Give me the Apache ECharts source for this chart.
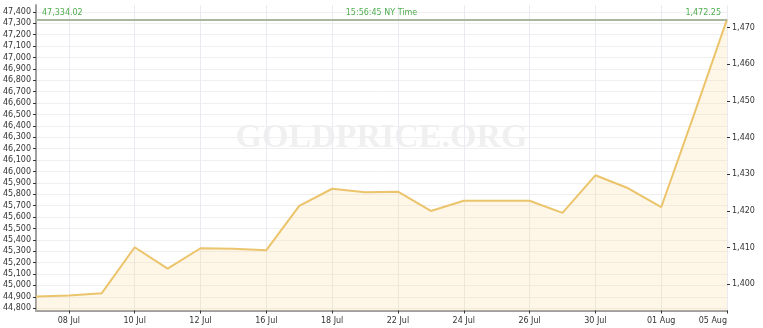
<!DOCTYPE html>
<html>
<head>
<meta charset="utf-8">
<script src="https://cdn.jsdelivr.net/npm/echarts@6/dist/echarts.min.js"></script>
<style>
  html, body { margin: 0; padding: 0; background: #ffffff; }
  #chart { width: 763px; height: 328px; }
</style>
</head>
<body>
<div id="chart"></div>
<script>
// ---- data ----
const categories = ['05 Jul','08 Jul','09 Jul','10 Jul','11 Jul','12 Jul','15 Jul','16 Jul','17 Jul','18 Jul','19 Jul',
  '22 Jul','23 Jul','24 Jul','25 Jul','26 Jul','29 Jul','30 Jul','31 Jul','01 Aug','02 Aug','05 Aug'];
const localValues = [44902, 44912, 44932, 45335, 45148, 45326, 45322, 45309, 45697, 45848, 45817,
  45822, 45653, 45743, 45743, 45743, 45636, 45966, 45852, 45686, 46500, 47334.02];
const usdLast = 1472.25;
const timeLabel = '15:56:45 NY Time';
const leftTicks = [44800, 44900, 45000, 45100, 45200, 45300, 45400, 45500, 45600, 45700, 45800, 45900,
  46000, 46100, 46200, 46300, 46400, 46500, 46600, 46700, 46800, 46900, 47000, 47100, 47200, 47300, 47400];
const rightTicks = [1400, 1410, 1420, 1430, 1440, 1450, 1460, 1470];
const leftMin = 44780;
const leftMax = 47460;

// ---- derived ----
const lastLocal = localValues[localValues.length - 1];
const ratio = lastLocal / usdLast;
const fmt0 = v => Number(v).toLocaleString('en-US');
const fmt2 = v => Number(v).toLocaleString('en-US', { minimumFractionDigits: 2, maximumFractionDigits: 2 });
const oddIdx = idx => idx % 2 === 1;

const FONT = '"DejaVu Sans", Verdana, sans-serif';
const chart = echarts.init(document.getElementById('chart'), null, { renderer: 'canvas' });

const greenLabel = {
  show: true, color: '#4fae4f', fontFamily: FONT, fontSize: 8, distance: [6, 2]
};

chart.setOption({
  animation: false,
  backgroundColor: '#ffffff',
  graphic: [{
    type: 'text', left: 'center', top: 121, z: 0, silent: true,
    style: {
      text: 'GOLDPRICE.ORG',
      font: 'bold 34px "Liberation Serif", "DejaVu Serif", serif',
      fill: '#f0f0f0'
    }
  }],
  grid: { left: 34, right: 36, top: 5, bottom: 17.5 },
  xAxis: {
    type: 'category',
    data: categories,
    boundaryGap: false,
    axisLine: { show: true, lineStyle: { color: '#a0a0a0', width: 2 } },
    axisTick: { show: true, interval: oddIdx, length: 3, lineStyle: { color: '#333333' } },
    axisLabel: {
      interval: oddIdx, color: '#333333', fontFamily: FONT, fontSize: 8, margin: 6,
      alignMaxLabel: 'right'
    },
    splitLine: { show: true, interval: oddIdx, lineStyle: { color: '#e9ebf1', width: 1 } }
  },
  yAxis: [{
    type: 'value',
    position: 'left',
    min: leftMin,
    max: leftMax,
    axisLine: { show: true, lineStyle: { color: '#a0a0a0', width: 2 } },
    axisTick: { show: true, length: 3, customValues: leftTicks, lineStyle: { color: '#333333' } },
    axisLabel: {
      customValues: leftTicks, color: '#333333', fontFamily: FONT, fontSize: 8, margin: 5,
      formatter: v => fmt0(v)
    },
    splitLine: { show: true, lineStyle: { color: '#efefef', width: 1 } }
  }, {
    type: 'value',
    position: 'right',
    min: leftMin / ratio,
    max: leftMax / ratio,
    axisLine: { show: false },
    axisTick: { show: true, length: 3, customValues: rightTicks, lineStyle: { color: '#333333' } },
    axisLabel: {
      customValues: rightTicks, color: '#333333', fontFamily: FONT, fontSize: 8, margin: 5,
      formatter: v => fmt0(v)
    },
    splitLine: { show: false }
  }],
  series: [{
    type: 'line',
    yAxisIndex: 0,
    data: localValues,
    symbol: 'none',
    z: 3,
    lineStyle: { color: '#ebc46c', width: 2 },
    areaStyle: { color: 'rgba(249, 220, 154, 0.35)' },
    markLine: {
      silent: true,
      symbol: 'none',
      animation: false,
      data: [
        { yAxis: lastLocal, lineStyle: { color: '#a8b79e', width: 2, type: 'solid' },
          label: Object.assign({}, greenLabel, { position: 'insideStartTop', formatter: () => fmt2(lastLocal) }) },
        { yAxis: lastLocal, lineStyle: { color: 'rgba(0,0,0,0)', width: 0 },
          label: Object.assign({}, greenLabel, { position: 'insideMiddleTop', formatter: () => timeLabel }) },
        { yAxis: lastLocal, lineStyle: { color: 'rgba(0,0,0,0)', width: 0 },
          label: Object.assign({}, greenLabel, { position: 'insideEndTop', formatter: () => fmt2(usdLast) }) }
      ]
    }
  }]
});
</script>
</body>
</html>
